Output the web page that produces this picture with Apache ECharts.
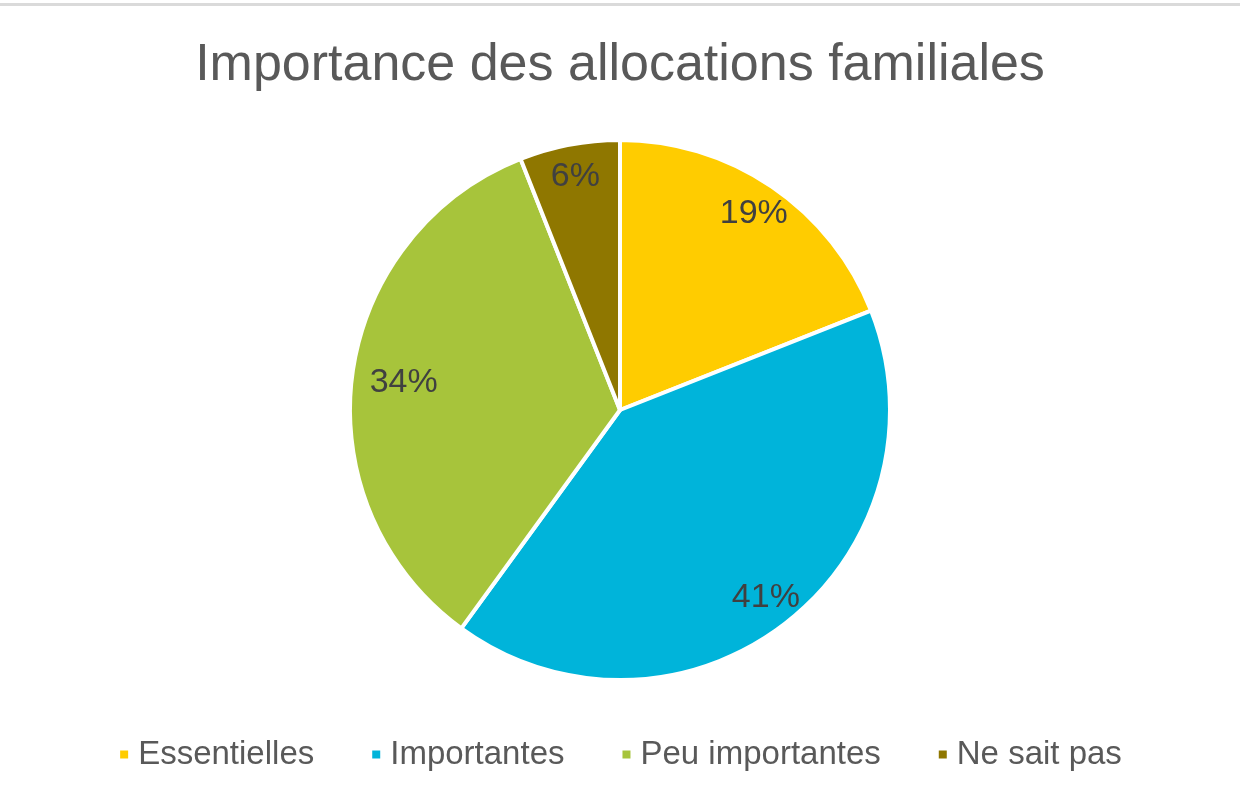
<!DOCTYPE html>
<html>
<head>
<meta charset="utf-8">
<script src="https://cdn.jsdelivr.net/npm/echarts@6/dist/echarts.min.js"></script>
<style>html,body{margin:0;padding:0;background:#fff}#c{width:1240px;height:800px}</style>
</head>
<body>
<div id="c"></div>
<script>
const titleText = 'Importance des allocations familiales';
const categories = ['Essentielles', 'Importantes', 'Peu importantes', 'Ne sait pas'];
const values = [19, 41, 34, 6];
const colors = ['#FFCC00', '#00B4DA', '#A7C43B', '#8F7700'];

const FONT = '"Liberation Sans", Arial, sans-serif';
const data = categories.map((n, i) => ({ name: n, value: values[i], itemStyle: { color: colors[i] } }));
const labelStyle = { show: true, position: 'inside', formatter: '{c}%', fontFamily: FONT, fontSize: 34, color: '#404040' };
function overlay(radius, showIdx) {
  return {
    type: 'pie', center: [620, 410], radius: radius, startAngle: 90, clockwise: true, silent: true,
    data: categories.map((n, i) => ({ name: n, value: values[i], label: { show: showIdx(i) } })),
    itemStyle: { color: 'rgba(0,0,0,0)', borderWidth: 0 },
    label: labelStyle, labelLine: { show: false }, emphasis: { disabled: true }
  };
}

const chart = echarts.init(document.getElementById('c'));
chart.setOption({
  backgroundColor: '#fff',
  animation: false,
  title: {
    text: titleText, left: 'center', top: 35,
    textStyle: { fontFamily: FONT, fontSize: 52, fontWeight: 'normal', color: '#595959' }
  },
  legend: {
    data: categories, top: 733, left: 'center', itemWidth: 10, itemHeight: 10, itemGap: 56,
    icon: 'rect',
    textStyle: { fontFamily: FONT, fontSize: 33, color: '#595959', padding: [0, 0, 0, 4] }
  },
  graphic: [{ type: 'rect', left: 0, top: 3, shape: { width: 1240, height: 3 }, style: { fill: '#DADADA' } }],
  series: [
    {
      type: 'pie', center: [620, 410], radius: [0, 270], startAngle: 90, clockwise: true,
      data: data, label: { show: false }, labelLine: { show: false },
      itemStyle: { borderColor: '#fff', borderWidth: 4 }
    },
    overlay([200, 270], i => i !== 2),
    overlay([160, 270], i => i === 2)
  ]
});
</script>
</body>
</html>
